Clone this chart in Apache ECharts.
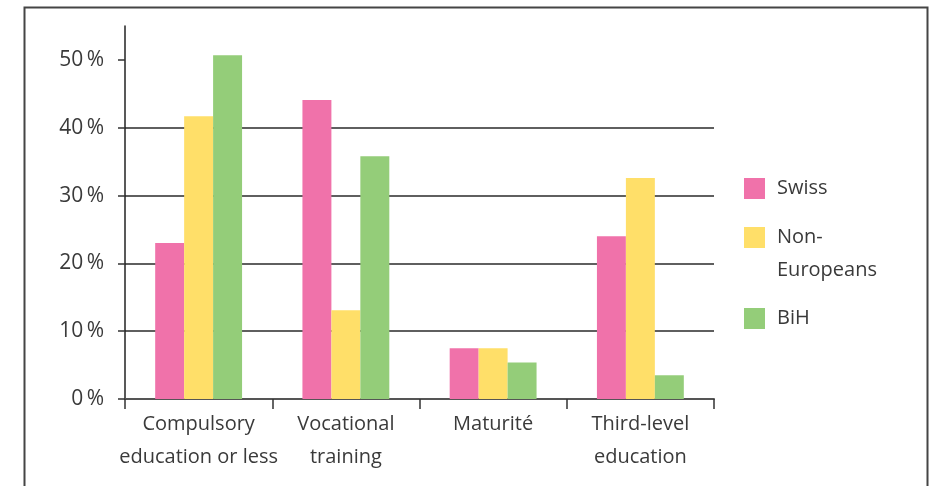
<!DOCTYPE html>
<html>
<head>
<meta charset="utf-8">
<script src="https://cdn.jsdelivr.net/npm/echarts@6/dist/echarts.min.js"></script>
<style>
html,body{margin:0;padding:0;background:#fff;}
#chart{width:932px;height:486px;}
</style>
</head>
<body>
<div id="chart"></div>
<script>
const categories = ['Compulsory\neducation or less', 'Vocational\ntraining', 'Maturité', 'Third-level\neducation'];
const swiss = [23.0, 44.1, 7.5, 24.0];
const nonEuropeans = [41.7, 13.1, 7.5, 32.6];
const bih = [50.7, 35.8, 5.4, 3.5];
const yTicks = [0, 10, 20, 30, 40, 50];
const seriesNames = ['Swiss', 'Non-Europeans', 'BiH'];
const legendLabels = { 'Swiss': ['Swiss'], 'Non-Europeans': ['', 'Non-', 'Europeans'], 'BiH': ['BiH'] };
const colors = ['#F072AA', '#FFDF69', '#94CD79'];

const FONT = '"Open Sans", "Noto Sans", sans-serif';
const TXT = '#3a3a3a';

const chart = echarts.init(document.getElementById('chart'));
const legendBase = {
  orient: 'vertical', left: 744, padding: 0, itemWidth: 21, itemHeight: 21, itemGap: 0,
  icon: 'rect', selectedMode: false,
  formatter: name => legendLabels[name].map(s => '{t|' + s + '}').join('\n'),
  textStyle: {
    fontFamily: FONT, fontSize: 20, color: TXT, lineHeight: 33,
    rich: { t: { fontFamily: FONT, fontSize: 20, color: TXT, lineHeight: 33, height: 33, padding: [0, 0, 0, 7] } }
  }
};
chart.setOption({
  animation: false,
  graphic: [{
    type: 'rect', left: 22, top: 5, z: -1,
    shape: { width: 903, height: 520 },
    style: { fill: 'none', stroke: '#454545', lineWidth: 2 }
  }],
  legend: [
    Object.assign({}, legendBase, { top: 172, data: [seriesNames[0]] }),
    Object.assign({}, legendBase, { top: 188, data: [seriesNames[1]] }),
    Object.assign({}, legendBase, { top: 302, data: [seriesNames[2]] })
  ],
  grid: { left: 125, right: 218, top: 26, bottom: 87, containLabel: false },
  xAxis: {
    type: 'category', data: categories,
    axisLine: { lineStyle: { color: '#555', width: 2 } },
    axisTick: { show: true, length: 10, lineStyle: { color: '#333', width: 1.5 } },
    axisLabel: { fontFamily: FONT, fontSize: 20, color: TXT, lineHeight: 33, margin: 9, interval: 0 }
  },
  yAxis: {
    type: 'value', min: 0, max: 55,
    axisLine: { show: true, lineStyle: { color: '#222', width: 1.5 } },
    axisTick: { show: true, length: 7, customValues: yTicks, lineStyle: { color: '#333', width: 1.5 } },
    axisLabel: { customValues: yTicks, fontFamily: FONT, fontSize: 21, color: TXT, margin: 21,
      formatter: v => v + '\u2009%' },
    splitLine: { show: true, showMaxLine: false, lineStyle: { color: '#2a2a2a', width: 1.5 } }
  },
  series: [
    { name: seriesNames[0], type: 'bar', data: swiss, barGap: '0%', barCategoryGap: '41%', itemStyle: { color: colors[0] } },
    { name: seriesNames[1], type: 'bar', data: nonEuropeans, itemStyle: { color: colors[1] } },
    { name: seriesNames[2], type: 'bar', data: bih, itemStyle: { color: colors[2] } }
  ]
});
</script>
</body>
</html>
